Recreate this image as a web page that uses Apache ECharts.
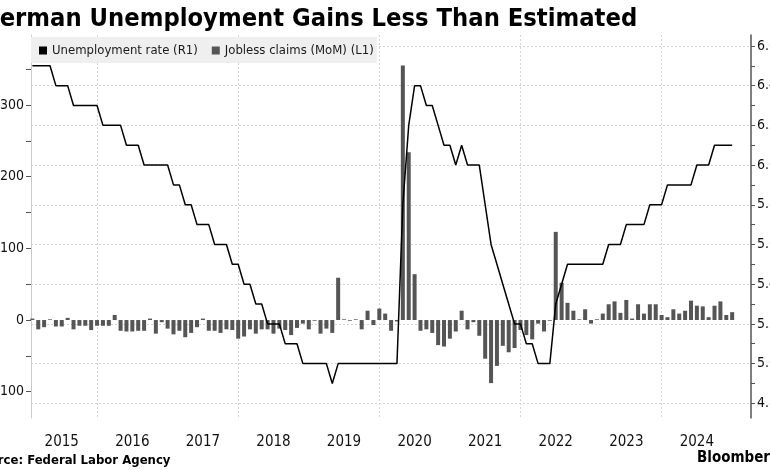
<!DOCTYPE html>
<html>
<head>
<meta charset="utf-8">
<script src="https://cdn.jsdelivr.net/npm/echarts@6/dist/echarts.min.js"></script>
<style>
html,body{margin:0;padding:0;background:#fff;}
#chart{width:770px;height:470px;}
</style>
</head>
<body>
<div id="chart"></div>
<script>
// ---- data (monthly, Jan 2015 .. Dec 2024) ----
const years = [2015, 2016, 2017, 2018, 2019, 2020, 2021, 2022, 2023, 2024];

// Unemployment rate, % (right axis)
const rate2015 = [6.5, 6.5, 6.5, 6.5, 6.4, 6.4, 6.4, 6.3, 6.3, 6.3, 6.3, 6.3];
const rate2016 = [6.2, 6.2, 6.2, 6.2, 6.1, 6.1, 6.1, 6.0, 6.0, 6.0, 6.0, 6.0];
const rate2017 = [5.9, 5.9, 5.8, 5.8, 5.7, 5.7, 5.7, 5.6, 5.6, 5.6, 5.5, 5.5];
const rate2018 = [5.4, 5.4, 5.3, 5.3, 5.2, 5.2, 5.2, 5.1, 5.1, 5.1, 5.0, 5.0];
const rate2019 = [5.0, 5.0, 5.0, 4.9, 5.0, 5.0, 5.0, 5.0, 5.0, 5.0, 5.0, 5.0];
const rate2020 = [5.0, 5.0, 5.0, 5.8, 6.2, 6.4, 6.4, 6.3, 6.3, 6.2, 6.1, 6.1];
const rate2021 = [6.0, 6.1, 6.0, 6.0, 6.0, 5.8, 5.6, 5.5, 5.4, 5.3, 5.2, 5.2];
const rate2022 = [5.1, 5.1, 5.0, 5.0, 5.0, 5.3, 5.4, 5.5, 5.5, 5.5, 5.5, 5.5];
const rate2023 = [5.5, 5.5, 5.6, 5.6, 5.6, 5.7, 5.7, 5.7, 5.7, 5.8, 5.8, 5.8];
const rate2024 = [5.9, 5.9, 5.9, 5.9, 5.9, 6.0, 6.0, 6.0, 6.1, 6.1, 6.1, 6.1];

// Jobless claims, month-on-month change, thousands (left axis)
const claims2015 = [2, -13, -10, 1, -9, -9, 3, -13, -8, -8, -14, -8];
const claims2016 = [-8, -8, 7, -15, -16, -16, -15, -15, 2, -19, -3, -12];
const claims2017 = [-20, -15, -24, -18, -10, 2, -15, -15, -18, -13, -14, -26];
const claims2018 = [-23, -13, -19, -13, -13, -19, -12, -14, -21, -11, -5, -13];
const claims2019 = [-1, -19, -12, -18, 59, 1, -1, 1, -13, 13, -7, 16];
const claims2020 = [9, -15, -2, 355, 234, 64, -15, -13, -18, -35, -37, -26];
const claims2021 = [-16, 13, -13, -3, -22, -54, -88, -64, -36, -45, -39, -14];
const claims2022 = [-21, -27, -5, -16, -1, 123, 52, 24, 13, 1, 15, -5];
const claims2023 = [1, 9, 22, 26, 10, 28, 2, 22, 9, 22, 22, 7];
const claims2024 = [4, 15, 9, 13, 27, 20, 19, 4, 20, 26, 7, 11];

// axis ticks / labels
const leftTicks = [-100, -50, 0, 50, 100, 150, 200, 250, 300, 350];
const leftLabels = [-100, 0, 100, 200, 300];
const rightTicks = [4.8, 4.9, 5.0, 5.1, 5.2, 5.3, 5.4, 5.5, 5.6, 5.7, 5.8, 5.9, 6.0, 6.1, 6.2, 6.3, 6.4, 6.5, 6.6];
const rightLabels = [4.8, 5.0, 5.2, 5.4, 5.6, 5.8, 6.0, 6.2, 6.4, 6.6];
const gridYears = [2016, 2018, 2020, 2022, 2024];

// ---- build series ----
const rateByYear = [rate2015, rate2016, rate2017, rate2018, rate2019, rate2020, rate2021, rate2022, rate2023, rate2024];
const claimsByYear = [claims2015, claims2016, claims2017, claims2018, claims2019, claims2020, claims2021, claims2022, claims2023, claims2024];
const rateData = [], claimsData = [];
years.forEach((y, yi) => {
  for (let m = 0; m < 12; m++) {
    const t = y + (m + 1) / 12; // month-end position
    rateData.push([t, rateByYear[yi][m]]);
    claimsData.push([t, claimsByYear[yi][m]]);
  }
});

const chart = echarts.init(document.getElementById('chart'), null, {renderer: 'canvas'});
const cond = "'DejaVu Sans Condensed', 'DejaVu Sans', sans-serif";
chart.setOption({
  animation: false,
  backgroundColor: '#ffffff',
  grid: {left: 31, right: 19, top: 35, bottom: 52, containLabel: false, outerBoundsMode: 'none'},
  legend: {
    left: 31, top: 37,
    backgroundColor: '#efefef',
    padding: [7, 3, 6, 8],
    itemWidth: 8, itemHeight: 8, itemGap: 14,
    icon: 'rect',
    textStyle: {fontFamily: cond, fontSize: 13, color: '#1a1a1a'},
    data: [
      {name: 'Unemployment rate (R1)', itemStyle: {color: '#000000'}},
      {name: 'Jobless claims (MoM) (L1)', itemStyle: {color: '#555555'}}
    ]
  },
  xAxis: {
    type: 'value',
    min: 2015.064, max: 2025.267,
    axisLine: {show: false},
    axisTick: {show: false, customValues: gridYears},
    splitLine: {show: true, lineStyle: {color: '#d4d4d4', type: [2, 2], width: 1}},
    axisLabel: {
      customValues: years.map(y => y + 0.5),
      formatter: v => String(Math.floor(v)),
      margin: 17,
      fontFamily: cond, fontSize: 15, color: '#111'
    }
  },
  yAxis: [
    {
      type: 'value', position: 'left',
      min: -136.7, max: 397.7,
      axisLine: {show: true, lineStyle: {color: '#cccccc', width: 1}},
      axisTick: {show: true, inside: false, length: 5, customValues: leftTicks, lineStyle: {color: '#555'}},
      axisLabel: {customValues: leftLabels, margin: 7, fontFamily: cond, fontSize: 14, color: '#111',
                  formatter: v => String(v)},
      splitLine: {show: false}
    },
    {
      type: 'value', position: 'right',
      min: 4.726, max: 6.655,
      axisLine: {show: true, lineStyle: {color: '#555555', width: 1.5}},
      axisTick: {show: true, inside: false, length: 4, customValues: rightTicks, lineStyle: {color: '#555'}},
      axisLabel: {customValues: rightLabels, margin: 6, fontFamily: cond, fontSize: 14, color: '#111',
                  formatter: v => v.toFixed(1)},
      splitLine: {show: true, lineStyle: {color: ['#d4d4d4', 'rgba(0,0,0,0)'], type: [2, 2], width: 1}}
    }
  ],
  series: [
    {
      name: 'Jobless claims (MoM) (L1)', type: 'bar', yAxisIndex: 0,
      data: claimsData, barWidth: 4,
      itemStyle: {color: '#555555'}, z: 2
    },
    {
      name: 'Unemployment rate (R1)', type: 'line', yAxisIndex: 1,
      data: rateData, showSymbol: false, symbol: 'none',
      lineStyle: {color: '#000000', width: 1.5},
      itemStyle: {color: '#000000'}, z: 3
    }
  ],
  graphic: [
    {type: 'text', x: -19, y: 7,
     style: {text: 'German Unemployment Gains Less Than Estimated', fontFamily: cond, fontSize: 25.3, fontWeight: 'bold', fill: '#000'}},
    {type: 'text', x: -27, y: 454,
     style: {text: 'Source: Federal Labor Agency', fontFamily: cond, fontSize: 13, fontWeight: 'bold', fill: '#000'}},
    {type: 'text', x: 697, y: 451,
     style: {text: 'Bloomberg', fontFamily: cond, fontSize: 15, fontWeight: 'bold', fill: '#000'}}
  ]
});
</script>
</body>
</html>
